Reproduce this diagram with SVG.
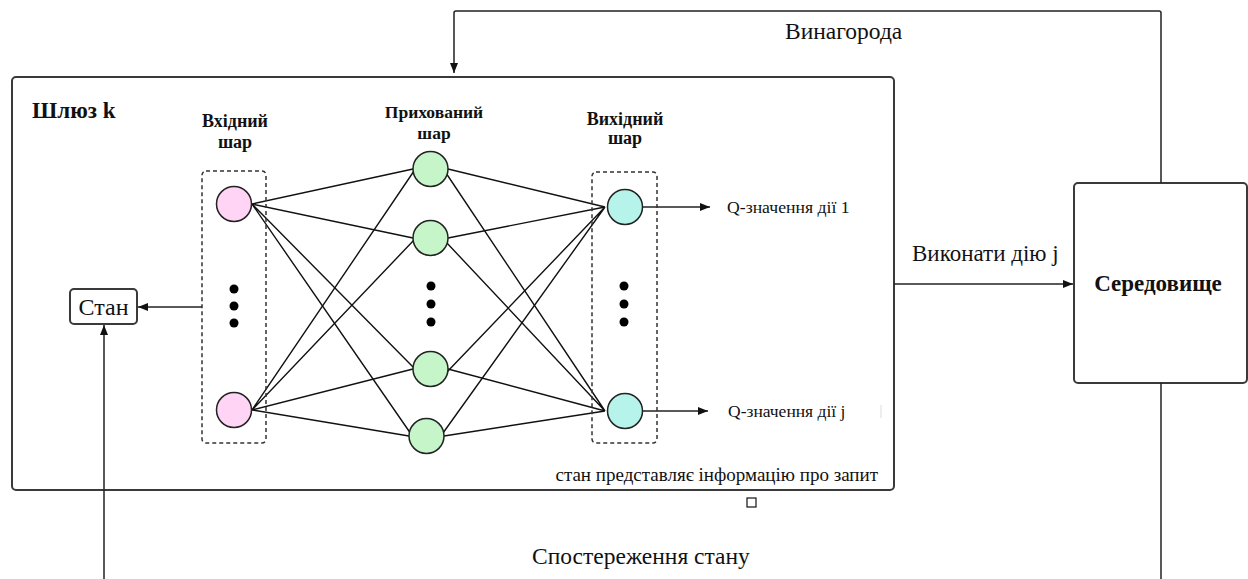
<svg xmlns="http://www.w3.org/2000/svg" width="1248" height="579" viewBox="0 0 1248 579">
<style>
.t{font-family:"Liberation Serif","Times New Roman",serif;fill:#111}
.b{font-weight:bold}
.box{fill:#fff;stroke:#3a3a3a;stroke-width:2}
.dash{fill:none;stroke:#333;stroke-width:1.5;stroke-dasharray:4 3}
.nin{fill:#ffd4f4;stroke:#222;stroke-width:1.5}
.nhid{fill:#c5f5c8;stroke:#222;stroke-width:1.5}
.nout{fill:#b6f3ea;stroke:#222;stroke-width:1.5}
.w{stroke:#111;stroke-width:1.4;fill:none}
.c{stroke:#222;stroke-width:1.5;fill:none}
.dot{fill:#000}
</style>
<defs>
<marker id="ah" viewBox="0 0 10 10" refX="10" refY="5" markerWidth="10" markerHeight="10" markerUnits="userSpaceOnUse" orient="auto">
<path d="M0,1 L10,5 L0,9 z" fill="#111"/>
</marker>
</defs>
<rect width="1248" height="579" fill="#fff"/>

<g id="gateway">
<rect class="box" x="12" y="77" width="882" height="413" rx="4"/>
<text class="t b" x="32" y="118" font-size="23">Шлюз k</text>
<text class="t" x="878" y="481" font-size="19" text-anchor="end">стан представляє інформацію про запит</text>
</g>

<g id="environment">
<rect class="box" x="1074" y="183" width="173" height="200" rx="4"/>
<text class="t b" x="1158" y="291" font-size="23" text-anchor="middle">Середовище</text>
</g>

<g id="state">
<rect class="box" x="70" y="289" width="67" height="35" rx="4" stroke-width="1.8"/>
<text class="t" x="103.5" y="315" font-size="24" text-anchor="middle">Стан</text>
</g>

<g id="connectors">
<path class="c" d="M1161,183 V13 Q1161,11 1159,11 H456 Q454,11 454,13 V73" marker-end="url(#ah)"/>
<path class="c" d="M1161,383 V579"/>
<path class="c" d="M894,284 H1073" marker-end="url(#ah)"/>
<path class="c" d="M202,307 H138" marker-end="url(#ah)"/>
<path class="c" d="M104,579 V325" marker-end="url(#ah)"/>
<path class="c" d="M643,207 H710" marker-end="url(#ah)"/>
<path class="c" d="M643,411 H708" marker-end="url(#ah)"/>
<g id="weights">
<path class="w" d="M252,204 L413,169 M252,204 L413,238 M252,204 L414,368 M252,204 L411,434"/>
<path class="w" d="M252,410 L414,171 M252,410 L414,240 M252,410 L413,369 M252,410 L409,436"/>
<path class="w" d="M448,169 L605,207 M448,238 L605,207 M447,372 L605,207 M443,433 L605,207"/>
<path class="w" d="M446,173 L605,411 M446,242 L605,411 M448,369 L605,411 M444,436 L605,411"/>
</g>
</g>

<g id="input-layer">
<rect class="dash" x="202" y="171" width="64" height="272" rx="4"/>
<text class="t b" x="235" y="127" font-size="18" text-anchor="middle">Вхідний</text>
<text class="t b" x="235" y="148" font-size="18" text-anchor="middle">шар</text>
<circle class="nin" cx="234" cy="204" r="17.5"/>
<circle class="nin" cx="234" cy="410" r="17.5"/>
<circle class="dot" cx="234" cy="289" r="4.5"/>
<circle class="dot" cx="234" cy="306" r="4.5"/>
<circle class="dot" cx="234" cy="323" r="4.5"/>
</g>

<g id="hidden-layer">
<text class="t b" x="434" y="118" font-size="17.5" text-anchor="middle">Прихований</text>
<text class="t b" x="434" y="139" font-size="17.5" text-anchor="middle">шар</text>
<circle class="nhid" cx="430.5" cy="169" r="17.5"/>
<circle class="nhid" cx="430.5" cy="238" r="17.5"/>
<circle class="nhid" cx="430.5" cy="369" r="17.5"/>
<circle class="nhid" cx="426.5" cy="436" r="17.5"/>
<circle class="dot" cx="431" cy="286" r="4.5"/>
<circle class="dot" cx="431" cy="304" r="4.5"/>
<circle class="dot" cx="431" cy="322" r="4.5"/>
</g>

<g id="output-layer">
<rect class="dash" x="592" y="172" width="65" height="271" rx="4"/>
<text class="t b" x="625" y="125" font-size="18" text-anchor="middle">Вихідний</text>
<text class="t b" x="625" y="144" font-size="18" text-anchor="middle">шар</text>
<circle class="nout" cx="625" cy="207" r="17.5"/>
<circle class="nout" cx="625" cy="411" r="17.5"/>
<circle class="dot" cx="624" cy="286" r="4.5"/>
<circle class="dot" cx="624" cy="304" r="4.5"/>
<circle class="dot" cx="624" cy="322" r="4.5"/>
<text class="t" x="727" y="213" font-size="17.7">Q-значення дії 1</text>
<text class="t" x="728" y="417" font-size="17.5">Q-значення дії j</text>
<line x1="881" y1="405" x2="881" y2="418" stroke="#ddd" stroke-width="1"/>
</g>

<g id="labels">
<text class="t" x="785" y="39" font-size="23.5">Винагорода</text>
<text class="t" x="912" y="261" font-size="23">Виконати дію j</text>
<text class="t" x="532" y="564" font-size="23.5">Спостереження стану</text>
<rect x="747" y="498" width="9" height="9" fill="#fff" stroke="#111" stroke-width="1.2"/>
</g>
</svg>
